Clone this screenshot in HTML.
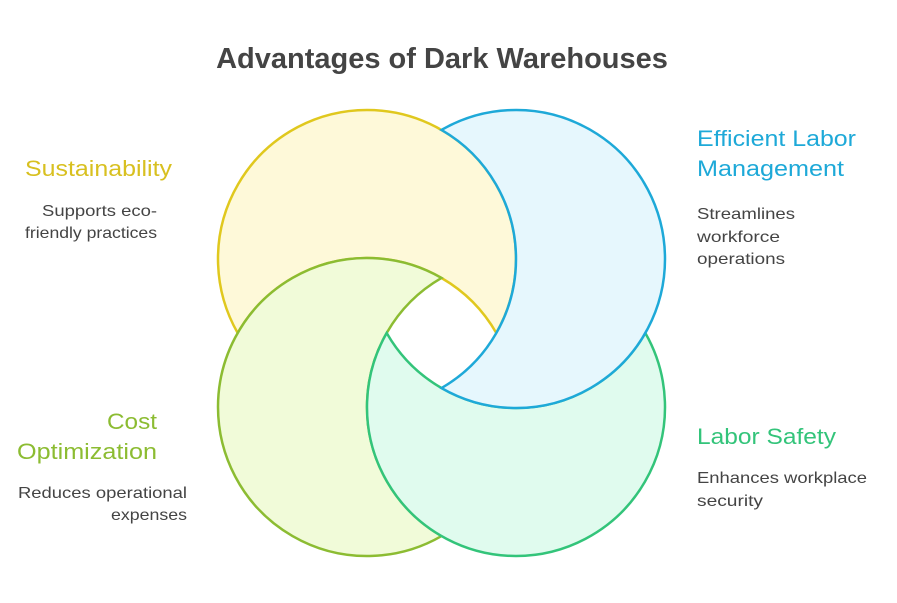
<!DOCTYPE html>
<html><head><style>body{margin:0;background:#fff}svg{display:block}</style></head><body>
<svg width="897" height="603" viewBox="0 0 897 603" xmlns="http://www.w3.org/2000/svg" font-family="Liberation Sans, sans-serif">
<text x="442" y="68" text-anchor="middle" font-size="29" font-weight="bold" fill="#444">Advantages of Dark Warehouses</text>
<g stroke-width="2.5">
<path d="M496.32 333 A149 149 0 1 0 237.68 333 A149 149 0 0 1 496.32 333Z" fill="#fef9d9" stroke="#e0c81e"/>
<path d="M441.5 277.96 A149 149 0 1 0 441.5 536.04 A149 149 0 0 1 441.5 277.96Z" fill="#f1fbd9" stroke="#8cbc32"/>
<path d="M645.32 333 A149 149 0 1 1 386.68 333 A149 149 0 0 0 645.32 333Z" fill="#e0fbee" stroke="#33c47a"/>
<path d="M441.5 388.04 A149 149 0 1 0 441.5 129.96 A149 149 0 0 1 441.5 388.04Z" fill="#e6f7fd" stroke="#1ea9d8"/>
</g>
<g font-size="22">
<text x="25" y="176" fill="#d8c020" textLength="147" lengthAdjust="spacingAndGlyphs">Sustainability</text>
<text x="697" y="146" fill="#1ea9d8" textLength="159" lengthAdjust="spacingAndGlyphs">Efficient Labor</text>
<text x="697" y="176" fill="#1ea9d8" textLength="147" lengthAdjust="spacingAndGlyphs">Management</text>
<text x="107" y="429" fill="#8cbc32" textLength="50" lengthAdjust="spacingAndGlyphs">Cost</text>
<text x="17" y="459" fill="#8cbc32" textLength="140" lengthAdjust="spacingAndGlyphs">Optimization</text>
<text x="697" y="444" fill="#33c47a" textLength="139" lengthAdjust="spacingAndGlyphs">Labor Safety</text>
</g>
<g font-size="16" fill="#444">
<text x="42" y="216" textLength="115" lengthAdjust="spacingAndGlyphs">Supports eco-</text>
<text x="25" y="238" textLength="132" lengthAdjust="spacingAndGlyphs">friendly practices</text>
<text x="697" y="219" textLength="98" lengthAdjust="spacingAndGlyphs">Streamlines</text>
<text x="697" y="242" textLength="83" lengthAdjust="spacingAndGlyphs">workforce</text>
<text x="697" y="264" textLength="88" lengthAdjust="spacingAndGlyphs">operations</text>
<text x="18" y="498" textLength="169" lengthAdjust="spacingAndGlyphs">Reduces operational</text>
<text x="111" y="520" textLength="76" lengthAdjust="spacingAndGlyphs">expenses</text>
<text x="697" y="483" textLength="170" lengthAdjust="spacingAndGlyphs">Enhances workplace</text>
<text x="697" y="506" textLength="66" lengthAdjust="spacingAndGlyphs">security</text>
</g>
</svg>
</body></html>
